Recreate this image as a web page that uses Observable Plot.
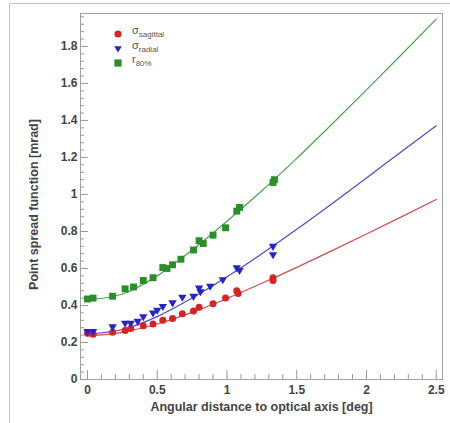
<!DOCTYPE html>
<html>
<head>
<meta charset="utf-8">
<script src="https://cdn.jsdelivr.net/npm/d3@7"></script>
<script src="https://cdn.jsdelivr.net/npm/@observablehq/plot@0.6"></script>
<style>
  html, body { margin: 0; padding: 0; background: #fff; }
  #wrap { position: relative; width: 450px; height: 423px; overflow: hidden; font-family: "Liberation Sans", Arial, sans-serif; }
  #border { position: absolute; left: 9px; top: 3px; width: 450px; height: 430px; border-top: 1px solid #a9c9f2; border-left: 1px solid #a9c9f2; }
  #legend { position: absolute; left: 112px; top: 26px; font-size: 11px; color: #555; }
  .row { position: relative; height: 14.5px; }
  .row svg { position: absolute; left: 0; top: 2px; }
  .row span.lab { position: absolute; left: 20px; top: -2px; white-space: nowrap; }
  .row sub { font-size: 8px; vertical-align: -3px; }
</style>
</head>
<body>
<div id="wrap">
  <div id="border"></div>
  <div id="chart"></div>
  <div id="legend"></div>
</div>
<script>
// ---- data ----
const seriesNames = ["sagittal", "radial", "r80"];
const legendLabels = [["σ", "sagittal"], ["σ", "radial"], ["r", "80%"]];

// measured points (x in deg, y in mrad)
const sagX = [0, 0.04, 0.18, 0.27, 0.31, 0.40, 0.47, 0.54, 0.61, 0.68, 0.76, 0.80, 0.90, 0.99, 1.07, 1.08, 1.33, 1.33];
const sagY = [0.25, 0.245, 0.255, 0.265, 0.275, 0.29, 0.30, 0.32, 0.33, 0.355, 0.37, 0.39, 0.41, 0.44, 0.48, 0.465, 0.55, 0.535];

const radX = [0, 0.04, 0.18, 0.27, 0.31, 0.36, 0.40, 0.47, 0.50, 0.54, 0.61, 0.68, 0.76, 0.80, 0.81, 0.88, 0.97, 1.07, 1.09, 1.33, 1.33];
const radY = [0.255, 0.255, 0.28, 0.30, 0.30, 0.31, 0.335, 0.355, 0.37, 0.39, 0.41, 0.44, 0.445, 0.49, 0.47, 0.50, 0.535, 0.60, 0.585, 0.715, 0.67];

const r80X = [0, 0.04, 0.18, 0.27, 0.33, 0.40, 0.47, 0.54, 0.57, 0.61, 0.67, 0.76, 0.80, 0.83, 0.90, 0.99, 1.07, 1.09, 1.33, 1.34];
const r80Y = [0.435, 0.44, 0.45, 0.49, 0.50, 0.535, 0.55, 0.605, 0.60, 0.62, 0.65, 0.70, 0.75, 0.735, 0.78, 0.82, 0.91, 0.93, 1.065, 1.08];

// fitted curves
const fitX = [0, 0.25, 0.5, 0.75, 1.0, 1.25, 1.5, 1.75, 2.0, 2.25, 2.5];
const sagFit = [0.235, 0.255, 0.30, 0.363, 0.438, 0.52, 0.606, 0.695, 0.786, 0.879, 0.973];
const radFit = [0.245, 0.27, 0.34, 0.44, 0.555, 0.68, 0.812, 0.949, 1.089, 1.231, 1.372];
const r80Fit = [0.43, 0.462, 0.56, 0.70, 0.855, 1.02, 1.195, 1.378, 1.565, 1.755, 1.948];

// axis ticks
const xMajor = [0, 0.5, 1, 1.5, 2, 2.5];
const xMinor = [0.1, 0.2, 0.3, 0.4, 0.6, 0.7, 0.8, 0.9, 1.1, 1.2, 1.3, 1.4, 1.6, 1.7, 1.8, 1.9, 2.1, 2.2, 2.3, 2.4];
const yMajor = [0, 0.2, 0.4, 0.6, 0.8, 1, 1.2, 1.4, 1.6, 1.8];
const yMinor = [0.04, 0.08, 0.12, 0.16, 0.24, 0.28, 0.32, 0.36, 0.44, 0.48, 0.52, 0.56, 0.64, 0.68, 0.72, 0.76,
  0.84, 0.88, 0.92, 0.96, 1.04, 1.08, 1.12, 1.16, 1.24, 1.28, 1.32, 1.36, 1.44, 1.48, 1.52, 1.56, 1.64, 1.68, 1.72, 1.76, 1.84, 1.88, 1.92, 1.96];

const xTitle = "Angular distance to optical axis [deg]";
const yTitle = "Point spread function [mrad]";

const colors = {sagittal: "#d42424", radial: "#2424c8", r80: "#2a8f2a"};
const lineColors = {sagittal: "#dc4a4a", radial: "#4a4ad4", r80: "#4da44d"};

// ---- build tables ----
const pts = [
  ...sagX.map((x, i) => ({s: "sagittal", x, y: sagY[i]})),
  ...radX.map((x, i) => ({s: "radial", x, y: radY[i]})),
  ...r80X.map((x, i) => ({s: "r80", x, y: r80Y[i]}))
];
const fits = [
  ...fitX.map((x, i) => ({s: "sagittal", x, y: sagFit[i]})),
  ...fitX.map((x, i) => ({s: "radial", x, y: radFit[i]})),
  ...fitX.map((x, i) => ({s: "r80", x, y: r80Fit[i]}))
];

const triangleDown = {
  draw(ctx, size) {
    const h = Math.sqrt(size) * 0.62;
    ctx.moveTo(-h, -h * 0.8);
    ctx.lineTo(h, -h * 0.8);
    ctx.lineTo(0, h * 0.9);
    ctx.closePath();
  }
};
const symbolOf = {sagittal: "circle", radial: triangleDown, r80: "square"};

const W = 450, H = 423, mL = 80, mR = 8, mT = 13, mB = 44;
const plotW = W - mL - mR, plotH = H - mT - mB;

const tickColor = "#9a9a9a";
const labelColor = "#444";

const marks = [
  Plot.frame({stroke: "#a0a0a0"}),
  Plot.tickX(xMajor, {x: d => d, insetTop: plotH - 9, stroke: tickColor}),
  Plot.tickX(xMinor, {x: d => d, insetTop: plotH - 5, stroke: tickColor}),
  Plot.tickY(yMajor, {y: d => d, insetRight: plotW - 8, stroke: tickColor}),
  Plot.tickY(yMinor, {y: d => d, insetRight: plotW - 4, stroke: tickColor}),
  Plot.axisX(xMajor, {tickSize: 0, tickPadding: 6, label: null, color: labelColor, tickFormat: d => String(d)}),
  Plot.axisY(yMajor, {tickSize: 0, tickPadding: 3, label: null, color: labelColor, tickFormat: d => String(d)}),
  Plot.text([xTitle], {frameAnchor: "bottom", dy: 31, fill: labelColor, fontSize: 12.5, fontWeight: "bold"}),
  Plot.text([yTitle], {frameAnchor: "left", textAnchor: "middle", dx: -47, dy: 8, rotate: -90, fill: labelColor, fontSize: 12.5, fontWeight: "bold"}),
];
for (const s of seriesNames) {
  marks.push(Plot.line(fits.filter(d => d.s === s), {x: "x", y: "y", stroke: lineColors[s], strokeWidth: 1.2, curve: "monotone-x"}));
}
for (const s of seriesNames) {
  const size = s === "radial" ? 3.8 : s === "r80" ? 3.9 : 3.5;
  marks.push(Plot.dot(pts.filter(d => d.s === s), {x: "x", y: "y", symbol: () => symbolOf[s], fill: colors[s], stroke: "none", r: size}));
}

const chart = Plot.plot({
  width: W, height: H,
  marginLeft: mL, marginRight: mR, marginTop: mT, marginBottom: mB,
  x: {domain: [-0.05, 2.545], axis: null},
  y: {domain: [0, 1.978], axis: null},
  symbol: {type: "identity"},
  style: {fontFamily: "'Liberation Sans', Arial, sans-serif", fontSize: "12px", fontWeight: "bold", background: "transparent"},
  marks
});
document.getElementById("chart").appendChild(chart);

// legend (HTML)
const legend = document.getElementById("legend");
const legSym = {
  sagittal: '<circle cx="6" cy="6" r="3.6" fill="' + colors.sagittal + '"/>',
  radial: '<path d="M2.2,3.2 L9.8,3.2 L6,9.4 Z" fill="' + colors.radial + '"/>',
  r80: '<rect x="2.4" y="2.4" width="7.2" height="7.2" fill="' + colors.r80 + '"/>'
};
seriesNames.forEach((s, i) => {
  const row = document.createElement("div");
  row.className = "row";
  row.innerHTML = '<svg width="12" height="12">' + legSym[s] + '</svg>' +
    '<span class="lab">' + legendLabels[i][0] + '<sub>' + legendLabels[i][1] + '</sub></span>';
  legend.appendChild(row);
});
</script>
</body>
</html>
